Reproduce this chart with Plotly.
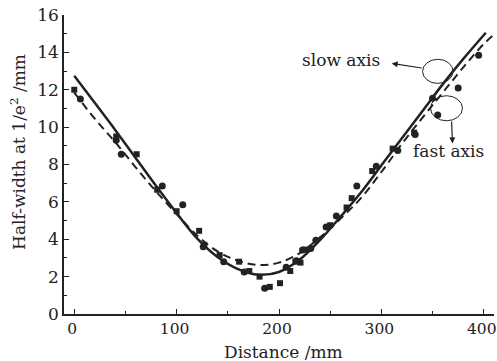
import plotly.graph_objects as go

sq_x = [0, 41, 61, 81, 100, 122, 127, 142, 161, 171, 181, 191, 201, 211, 216, 221, 226, 250, 266, 271, 291, 311, 332]
sq_y = [12.0, 9.5, 8.55, 6.65, 5.5, 4.45, 3.7, 3.15, 2.8, 2.3, 2.0, 1.45, 1.65, 2.3, 2.8, 2.75, 3.45, 4.75, 5.7, 6.2, 7.65, 8.85, 9.7]

ci_x = [6, 41, 46, 86, 106, 126, 146, 166, 186, 207, 217, 223, 231, 236, 246, 256, 276, 295, 316, 333, 350, 355, 375, 395]
ci_y = [11.5, 9.3, 8.55, 6.85, 5.85, 3.6, 2.8, 2.25, 1.38, 2.5, 2.85, 3.42, 3.5, 3.95, 4.65, 5.25, 6.85, 7.9, 8.75, 9.6, 11.55, 10.65, 12.1, 13.85]

# Fitted curves
solid_x = [0, 20, 40, 60, 80, 100, 120, 140, 160, 180, 200, 220, 240, 260, 280, 300, 320, 340, 360, 380, 402]
solid_y = [12.75, 11.3, 9.85, 8.35, 6.85, 5.4, 4.05, 3.05, 2.4, 2.1, 2.25, 2.9, 3.95, 5.2, 6.5, 7.95, 9.4, 10.85, 12.3, 13.65, 15.05]

dash_x = [0, 20, 40, 60, 80, 100, 120, 140, 160, 180, 200, 220, 240, 260, 280, 300, 320, 340, 360, 380, 400, 410]
dash_y = [11.85, 10.45, 9.2, 7.85, 6.55, 5.35, 4.2, 3.35, 2.85, 2.62, 2.75, 3.25, 4.1, 5.1, 6.2, 7.6, 9.1, 10.5, 11.85, 13.2, 14.45, 14.95]

x_ticks = [0, 100, 200, 300, 400]
y_ticks = [0, 2, 4, 6, 8, 10, 12, 14, 16]

FONT = "DejaVu Serif"
INK = "#222222"

fig = go.Figure()
fig.add_trace(go.Scatter(x=solid_x, y=solid_y, mode="lines", line=dict(color=INK, width=2.5, shape="spline"), showlegend=False))
fig.add_trace(go.Scatter(x=dash_x, y=dash_y, mode="lines", line=dict(color=INK, width=2, dash="8px,5px", shape="spline"), showlegend=False))
fig.add_trace(go.Scatter(x=sq_x, y=sq_y, mode="markers", marker=dict(symbol="square", size=6, color=INK), showlegend=False))
fig.add_trace(go.Scatter(x=ci_x, y=ci_y, mode="markers", marker=dict(symbol="circle", size=7, color=INK), showlegend=False))

# ellipses
fig.add_shape(type="circle", xref="x", yref="y", x0=340.2, x1=370.0, y0=12.34, y1=13.63, line=dict(color=INK, width=1))
fig.add_shape(type="circle", xref="x", yref="y", x0=348.0, x1=379.2, y0=10.34, y1=11.68, line=dict(color=INK, width=1))

# arrows
fig.add_annotation(x=310, y=13.41, ax=340.8, ay=13.15, xref="x", yref="y", axref="x", ayref="y",
                   text="", showarrow=True, arrowhead=2, arrowsize=1, arrowwidth=1.2, arrowcolor=INK)
fig.add_annotation(x=369.5, y=9.13, ax=368.5, ay=10.38, xref="x", yref="y", axref="x", ayref="y",
                   text="", showarrow=True, arrowhead=2, arrowsize=1, arrowwidth=1.2, arrowcolor=INK)

fig.add_annotation(x=261, y=13.6, xref="x", yref="y", text="slow axis", showarrow=False,
                   font=dict(family=FONT, size=17, color=INK), xanchor="center", yanchor="middle")
fig.add_annotation(x=366, y=8.7, xref="x", yref="y", text="fast axis", showarrow=False,
                   font=dict(family=FONT, size=17, color=INK), xanchor="center", yanchor="middle")

# axis titles
fig.add_annotation(x=0.51, y=-0.128, xref="paper", yref="paper", text="Distance /mm", showarrow=False,
                   font=dict(family=FONT, size=17, color=INK), xanchor="center", yanchor="middle")
fig.add_annotation(x=-0.107, y=0.542, xref="paper", yref="paper", text="Half-width at 1/e<sup>2</sup> /mm",
                   showarrow=False, textangle=-90,
                   font=dict(family=FONT, size=17, color=INK), xanchor="center", yanchor="middle")

fig.update_xaxes(range=[-10, 410], tickvals=x_ticks, ticks="inside", ticklen=5, tickwidth=1, tickcolor=INK,
                 showline=True, linecolor=INK, linewidth=1.5, showgrid=False, zeroline=False, automargin=False,
                 ticklabeloverflow="allow", ticklabelshift=-2,
                 minor=dict(dtick=50, tick0=0, ticks="inside", ticklen=3, tickcolor=INK, showgrid=False),
                 tickfont=dict(family=FONT, size=15.5, color=INK))
fig.update_yaxes(range=[0, 16], tickvals=y_ticks, ticks="inside", ticklen=5, tickwidth=1, tickcolor=INK,
                 showline=True, linecolor=INK, linewidth=1.5, showgrid=False, zeroline=False, automargin=False,
                 ticklabeloverflow="allow",
                 minor=dict(dtick=1, tick0=0, ticks="inside", ticklen=3, tickcolor=INK, showgrid=False),
                 tickfont=dict(family=FONT, size=17, color=INK))

fig.update_layout(width=497, height=361, margin=dict(l=64, r=3, t=15, b=47),
                  plot_bgcolor="white", paper_bgcolor="white", showlegend=False)

# remove the page's default body margin so the figure fills the window exactly
fig.write_html("out.html", config={"displayModeBar": False},
               post_script="document.body.style.margin='0px';")
